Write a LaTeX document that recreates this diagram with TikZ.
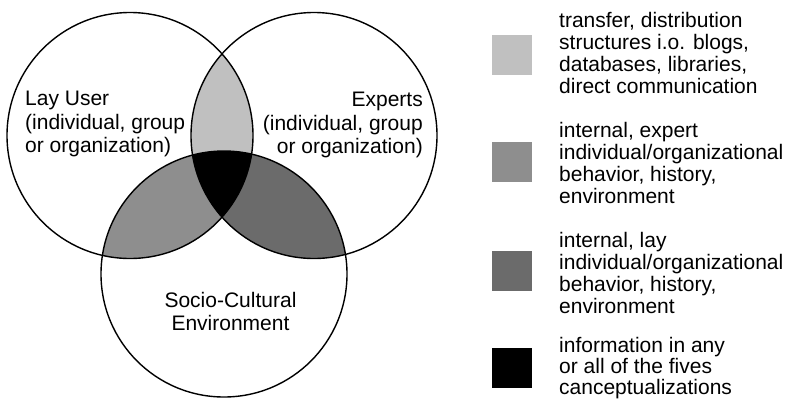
\documentclass[tikz,border=0pt]{standalone}
\usepackage{fontspec}
\setmainfont{Liberation Sans}
\definecolor{lensLR}{HTML}{C0C0C0}
\definecolor{lensLB}{HTML}{8E8E8E}
\definecolor{lensRB}{HTML}{6B6B6B}
\begin{document}
\begin{tikzpicture}[x=1pt,y=-1pt,
  ring/.style={draw=black,line width=1.4pt},
  lbl/.style={inner sep=0pt,font=\fontsize{21}{23.5}\selectfont},
  legtext/.style={inner sep=0pt,anchor=north west,align=left,font=\fontsize{21}{22}\selectfont},
  legbox/.style={minimum size=40pt,inner sep=0pt,anchor=north west}]
\useasboundingbox (0,0) rectangle (790,400);
\fill[white] (0,0) rectangle (790,400);
\coordinate (cL) at (130,135.5);
\coordinate (cR) at (314,135.5);
\coordinate (cB) at (224,274);
\def\rr{123pt}
% lenses
\begin{scope}
  \clip (cL) circle[radius=\rr];
  \fill[lensLR] (cR) circle[radius=\rr];
\end{scope}
\begin{scope}
  \clip (cL) circle[radius=\rr];
  \fill[lensLB] (cB) circle[radius=\rr];
\end{scope}
\begin{scope}
  \clip (cR) circle[radius=\rr];
  \fill[lensRB] (cB) circle[radius=\rr];
\end{scope}
\begin{scope}
  \clip (cL) circle[radius=\rr];
  \clip (cR) circle[radius=\rr];
  \fill[black] (cB) circle[radius=\rr];
\end{scope}
\draw[ring] (cL) circle[radius=\rr];
\draw[ring] (cR) circle[radius=\rr];
\draw[ring] (cB) circle[radius=\rr];
% circle labels
\node[lbl,anchor=north west,align=left] (lay) at (25,91) {Lay User\\(individual, group\\or organization)};
\node[lbl,anchor=north east,align=right] (exp) at (423,92) {Experts\\(individual, group\\or organization)};
\node[lbl,anchor=north,align=center] (soc) at (230.5,292) {Socio-Cultural\\Environment};
% legend
\node[legbox,fill=lensLR] (k1) at (492,35) {};
\node[legbox,fill=lensLB] (k2) at (492,142) {};
\node[legbox,fill=lensRB] (k3) at (492,251) {};
\node[legbox,fill=black] (k4) at (492,348) {};
\node[legtext] (t1) at (559,12) {transfer, distribution\\structures i.o. blogs,\\databases, libraries,\\direct communication};
\node[legtext] (t2) at (559,122) {internal, expert\\individual/organizational\\behavior, history,\\environment};
\node[legtext] (t3) at (559,232) {internal, lay\\individual/organizational\\behavior, history,\\environment};
\node[legtext,font=\fontsize{21}{21}\selectfont] (t4) at (559,337) {information in any\\or all of the fives\\canceptualizations};
\end{tikzpicture}
\end{document}
